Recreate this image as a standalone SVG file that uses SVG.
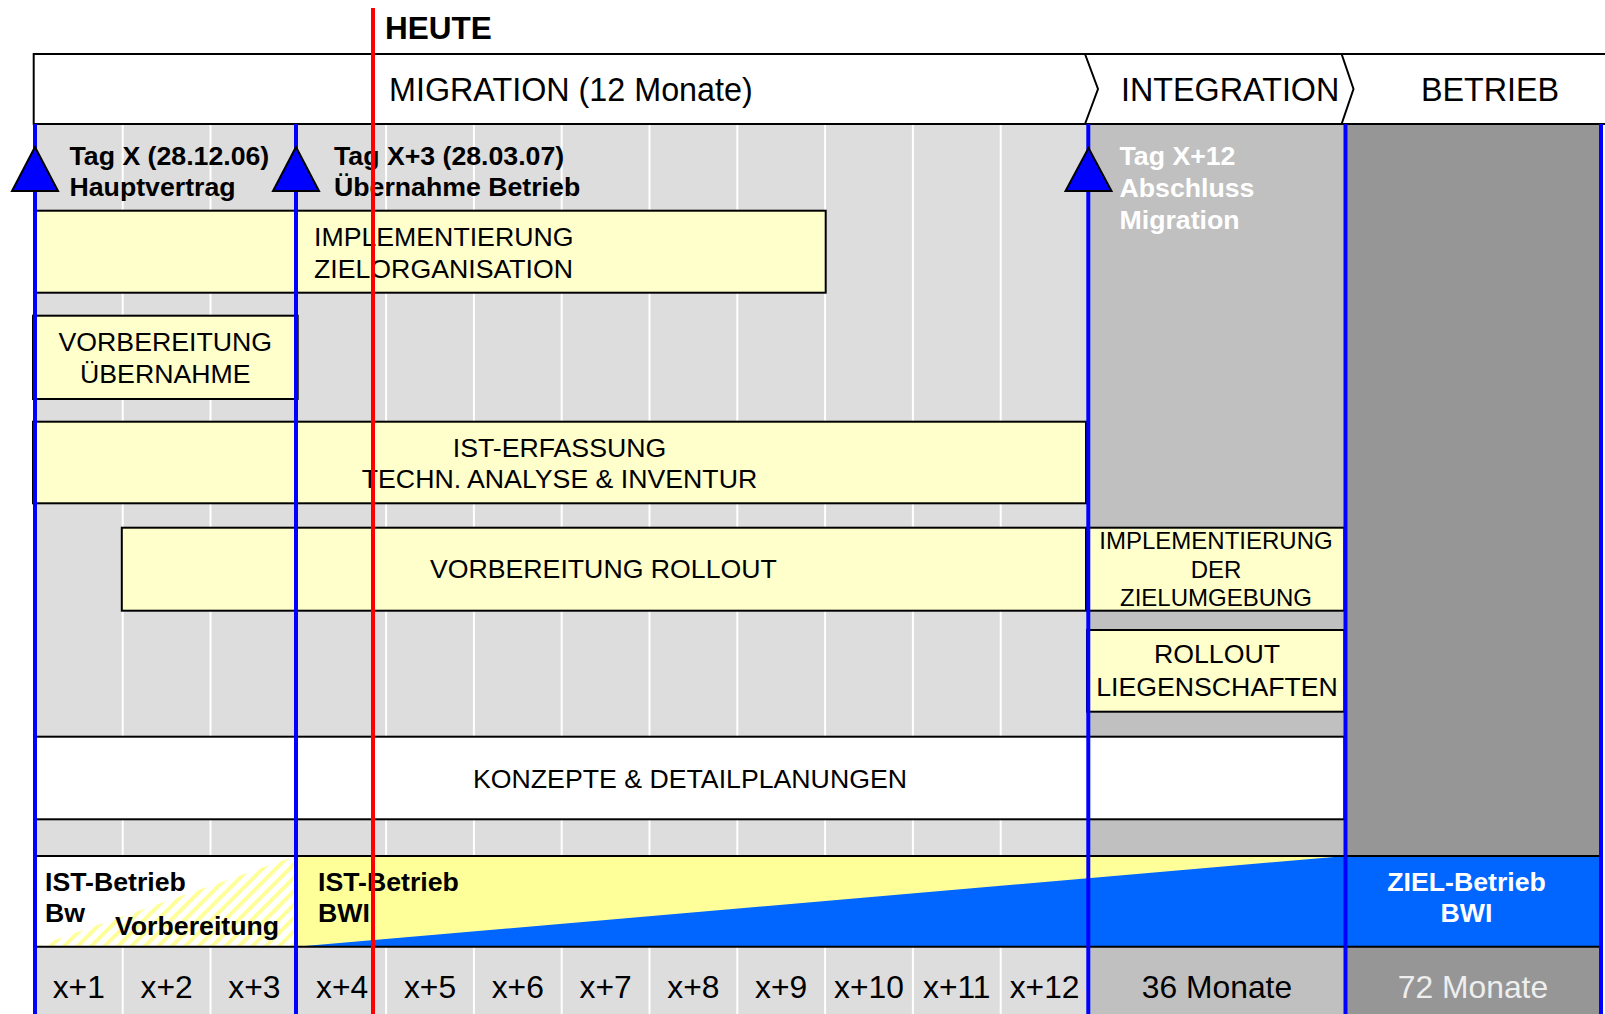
<svg xmlns="http://www.w3.org/2000/svg" width="1605" height="1014" viewBox="0 0 1605 1014">
  <style>
    .t { font-family: "Liberation Sans", Arial, sans-serif; fill: #000; }
    .b { font-weight: bold; font-size: 26.7px; }
    .r { font-size: 26.7px; }
    .h { font-size: 32.3px; }
    .m { font-size: 31.8px; }
    .w { fill: #FFFFFF; }
    .c { text-anchor: middle; }
    .box { fill: #FFFFCC; stroke: #000; stroke-width: 2; }
    .wbox { fill: #FFFFFF; stroke: #000; stroke-width: 2; }
    .grid { stroke: #FFFFFF; stroke-width: 2; }
    .ms { stroke: #0000FF; stroke-width: 4; fill: none; }
    .tri { fill: #0000FF; stroke: #000; stroke-width: 2; stroke-linejoin: miter; }
    .edge { stroke: #000; stroke-width: 2; fill: none; }
  </style>
  <defs>
    <pattern id="hatch" patternUnits="userSpaceOnUse" width="9.5" height="9.5" patternTransform="rotate(45)">
      <rect x="0" y="0" width="4" height="9.5" fill="#FFFF99"/>
    </pattern>
  </defs>

  <rect x="0" y="0" width="1605" height="1014" fill="#FFFFFF"/>

  <!-- background columns -->
  <g id="columns">
    <rect x="35" y="124" width="1053.3" height="890" fill="#DDDDDD"/>
    <rect x="1088.3" y="124" width="257.2" height="890" fill="#C0C0C0"/>
    <rect x="1345.5" y="124" width="255.5" height="890" fill="#969696"/>
    <g class="grid">
      <line x1="122.7" y1="124" x2="122.7" y2="1014"/>
      <line x1="210.5" y1="124" x2="210.5" y2="1014"/>
      <line x1="386.1" y1="124" x2="386.1" y2="1014"/>
      <line x1="473.9" y1="124" x2="473.9" y2="1014"/>
      <line x1="561.7" y1="124" x2="561.7" y2="1014"/>
      <line x1="649.5" y1="124" x2="649.5" y2="1014"/>
      <line x1="737.3" y1="124" x2="737.3" y2="1014"/>
      <line x1="825.1" y1="124" x2="825.1" y2="1014"/>
      <line x1="912.9" y1="124" x2="912.9" y2="1014"/>
      <line x1="1000.7" y1="124" x2="1000.7" y2="1014"/>
    </g>
  </g>

  <!-- header phases -->
  <g id="header">
    <rect x="33.7" y="54" width="1571.3" height="70" fill="#FFFFFF"/>
    <line class="edge" x1="33.7" y1="54" x2="1605" y2="54"/>
    <line class="edge" x1="33.7" y1="124" x2="1605" y2="124"/>
    <line class="edge" x1="33.7" y1="53" x2="33.7" y2="125"/>
    <polyline class="edge" points="1085,54 1098,89 1085,124"/>
    <polyline class="edge" points="1341.6,54 1353.5,89 1341.6,124"/>
    <text class="t h" x="389" y="101">MIGRATION (12 Monate)</text>
    <text class="t h" x="1121" y="101">INTEGRATION</text>
    <text class="t h c" x="1490" y="101">BETRIEB</text>
  </g>

  <!-- activity boxes -->
  <g id="impl-zielorganisation">
    <rect class="box" x="34" y="210.7" width="791.7" height="82"/>
    <text class="t r" x="314" y="245.7">IMPLEMENTIERUNG</text>
    <text class="t r" x="314" y="278.3">ZIELORGANISATION</text>
  </g>
  <g id="vorbereitung-uebernahme">
    <rect class="box" x="33" y="315.7" width="264.7" height="83.3"/>
    <text class="t r c" x="165.3" y="350.7">VORBEREITUNG</text>
    <text class="t r c" x="165.3" y="382.7">ÜBERNAHME</text>
  </g>
  <g id="ist-erfassung">
    <rect class="box" x="33" y="421.7" width="1053" height="81.6"/>
    <text class="t r c" x="559.5" y="456.7">IST-ERFASSUNG</text>
    <text class="t r c" x="559.5" y="488.3">TECHN. ANALYSE &amp; INVENTUR</text>
  </g>
  <g id="vorbereitung-rollout">
    <rect class="box" x="121.8" y="527.7" width="964.2" height="83"/>
    <text class="t r c" x="603.4" y="578.3">VORBEREITUNG ROLLOUT</text>
  </g>
  <g id="impl-zielumgebung">
    <rect class="box" x="1087" y="527.7" width="257.3" height="83"/>
    <text class="t c" style="font-size:24px" x="1216" y="549">IMPLEMENTIERUNG</text>
    <text class="t c" style="font-size:24px" x="1216" y="578">DER</text>
    <text class="t c" style="font-size:24px" x="1216" y="606">ZIELUMGEBUNG</text>
  </g>
  <g id="rollout-liegenschaften">
    <rect class="box" x="1087" y="630" width="257.3" height="81.7"/>
    <text class="t r c" x="1217" y="663.3">ROLLOUT</text>
    <text class="t r c" x="1217" y="695.7">LIEGENSCHAFTEN</text>
  </g>
  <g id="konzepte">
    <rect class="wbox" x="35" y="736.7" width="1309.3" height="82.6"/>
    <text class="t r c" x="690" y="788">KONZEPTE &amp; DETAILPLANUNGEN</text>
  </g>

  <!-- operation band -->
  <g id="betrieb-band">
    <rect x="35" y="856" width="261" height="90.7" fill="#FFFFFF"/>
    <polygon points="35,946.7 296,856 296,946.7" fill="url(#hatch)"/>
    <rect x="296" y="856" width="1049.5" height="90.7" fill="#FFFF99"/>
    <polygon points="296,946.7 1345.5,856 1345.5,946.7" fill="#0066FF"/>
    <rect x="1345.5" y="856" width="255.5" height="90.7" fill="#0066FF"/>
    <line class="edge" x1="33" y1="856" x2="1601" y2="856"/>
    <line class="edge" x1="33" y1="946.7" x2="1601" y2="946.7"/>
    <text class="t b" x="45" y="890.7">IST-Betrieb</text>
    <text class="t b" x="45" y="921.7">Bw</text>
    <text class="t b" x="115" y="935">Vorbereitung</text>
    <text class="t b" x="318" y="890.7">IST-Betrieb</text>
    <text class="t b" x="318" y="921.7">BWI</text>
    <text class="t b w c" x="1466.5" y="890.7">ZIEL-Betrieb</text>
    <text class="t b w c" x="1466.5" y="921.7">BWI</text>
  </g>

  <!-- timeline labels -->
  <g id="timeline">
    <text class="t m c" x="78.8" y="997.7">x+1</text>
    <text class="t m c" x="166.6" y="997.7">x+2</text>
    <text class="t m c" x="254.4" y="997.7">x+3</text>
    <text class="t m c" x="342.2" y="997.7">x+4</text>
    <text class="t m c" x="430" y="997.7">x+5</text>
    <text class="t m c" x="517.8" y="997.7">x+6</text>
    <text class="t m c" x="605.6" y="997.7">x+7</text>
    <text class="t m c" x="693.4" y="997.7">x+8</text>
    <text class="t m c" x="781.2" y="997.7">x+9</text>
    <text class="t m c" x="869" y="997.7">x+10</text>
    <text class="t m c" x="956.8" y="997.7">x+11</text>
    <text class="t m c" x="1044.6" y="997.7">x+12</text>
    <text class="t m c" x="1217" y="997.7">36 Monate</text>
    <text class="t m c" style="fill:#EEEEEE" x="1473" y="997.7">72 Monate</text>
  </g>

  <!-- milestones (connectors) -->
  <g id="connectors">
    <line class="ms" x1="35" y1="124" x2="35" y2="1014"/>
    <line class="ms" x1="296" y1="124" x2="296" y2="1014"/>
    <line class="ms" x1="1088.3" y1="124" x2="1088.3" y2="1014"/>
    <line class="ms" x1="1345.5" y1="124" x2="1345.5" y2="1014"/>
    <line class="ms" x1="1601" y1="124" x2="1601" y2="1014"/>
    <polygon class="tri" points="35,147 58,191 12,191"/>
    <polygon class="tri" points="296,147 319,191 273,191"/>
    <polygon class="tri" points="1088.5,148 1111.5,191 1065.5,191"/>
  </g>

  <g id="milestone-labels">
    <text class="t b" x="69.5" y="165">Tag X (28.12.06)</text>
    <text class="t b" x="69.5" y="196">Hauptvertrag</text>
    <text class="t b" x="334" y="165">Tag X+3 (28.03.07)</text>
    <text class="t b" x="334" y="196">Übernahme Betrieb</text>
    <text class="t b w" x="1119.5" y="165">Tag X+12</text>
    <text class="t b w" x="1119.5" y="197">Abschluss</text>
    <text class="t b w" x="1119.5" y="229">Migration</text>
  </g>

  <g id="heute">
    <line x1="373" y1="8" x2="373" y2="1014" stroke="#FF0000" stroke-width="4"/>
    <text class="t" style="font-weight:bold;font-size:31.5px" x="385" y="38.5">HEUTE</text>
  </g>
</svg>
